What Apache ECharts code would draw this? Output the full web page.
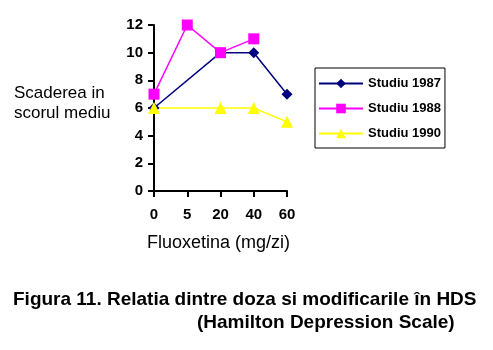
<!DOCTYPE html>
<html>
<head>
<meta charset="utf-8">
<script src="https://cdn.jsdelivr.net/npm/echarts@6/dist/echarts.min.js"></script>
<style>html,body{margin:0;padding:0;background:#fff}#chart{width:493px;height:350px}</style>
</head>
<body>
<div id="chart"></div>
<script>
// Dose levels (mg/zi) and mean score reduction per study
const doses = ['0', '5', '20', '40', '60'];
const studiu1987 = [6, null, 10, 10, 7];
const studiu1988 = [7, 12, 10, 11, null];
const studiu1990 = [6, null, 6, 6, 5];
const yTicks = [0, 2, 4, 6, 8, 10, 12];

const font = 'Arial, "Liberation Sans", sans-serif';
const chart = echarts.init(document.getElementById('chart'));

function lineSeries(name, data, color, symbol, size) {
  return {
    name, type: 'line', data, connectNulls: true,
    symbol, symbolSize: size,
    lineStyle: { color: color, width: 1.5 },
    itemStyle: { color: color },
    emphasis: { disabled: true },
    animation: false
  };
}

chart.setOption({
  backgroundColor: '#fff',
  animation: false,
  grid: { left: 154, right: 206, top: 25, bottom: 159 },
  title: [
    { text: 'Scaderea in\nscorul mediu', left: 9, top: 78,
      textStyle: { fontFamily: font, fontSize: 17, fontWeight: 'normal', color: '#000', lineHeight: 20 } },
    { text: 'Fluoxetina (mg/zi)', left: 142, top: 229,
      textStyle: { fontFamily: font, fontSize: 18, fontWeight: 'normal', color: '#000' } },
    { text: 'Figura 11. Relatia dintre doza si modificarile în HDS', left: 8, top: 285,
      textStyle: { fontFamily: font, fontSize: 19, fontWeight: 'bold', color: '#000' } },
    { text: '(Hamilton Depression Scale)', left: 192, top: 308,
      textStyle: { fontFamily: font, fontSize: 19, fontWeight: 'bold', color: '#000' } }
  ],
  legend: {
    orient: 'vertical', left: 315, top: 68,
    padding: [9, 4, 8, 3],
    itemGap: 12,
    itemWidth: 44, itemHeight: 12,
    borderColor: '#000', borderWidth: 1,
    selectedMode: false,
    textStyle: { fontFamily: font, fontSize: 13, fontWeight: 'bold', color: '#000' },
    data: ['Studiu 1987', 'Studiu 1988', 'Studiu 1990']
  },
  xAxis: {
    type: 'category', data: doses, boundaryGap: false,
    axisLine: { lineStyle: { color: '#000', width: 2 } },
    axisTick: { alignWithLabel: true, length: 6, lineStyle: { color: '#000', width: 2 } },
    axisLabel: { fontFamily: font, fontSize: 15, fontWeight: 'bold', color: '#000', margin: 16 },
    splitLine: { show: false }
  },
  yAxis: {
    type: 'value', min: yTicks[0], max: yTicks[yTicks.length - 1], interval: 2,
    axisLine: { show: true, lineStyle: { color: '#000', width: 2 } },
    axisTick: { show: true, length: 6, lineStyle: { color: '#000', width: 2 } },
    axisLabel: { fontFamily: font, fontSize: 15, fontWeight: 'bold', color: '#000', margin: 11 },
    splitLine: { show: false }
  },
  series: [
    lineSeries('Studiu 1987', studiu1987, '#000080', 'diamond', 11),
    lineSeries('Studiu 1988', studiu1988, '#FF00FF', 'rect', 11),
    lineSeries('Studiu 1990', studiu1990, '#FFFF00', 'triangle', 12)
  ]
});
</script>
</body>
</html>
